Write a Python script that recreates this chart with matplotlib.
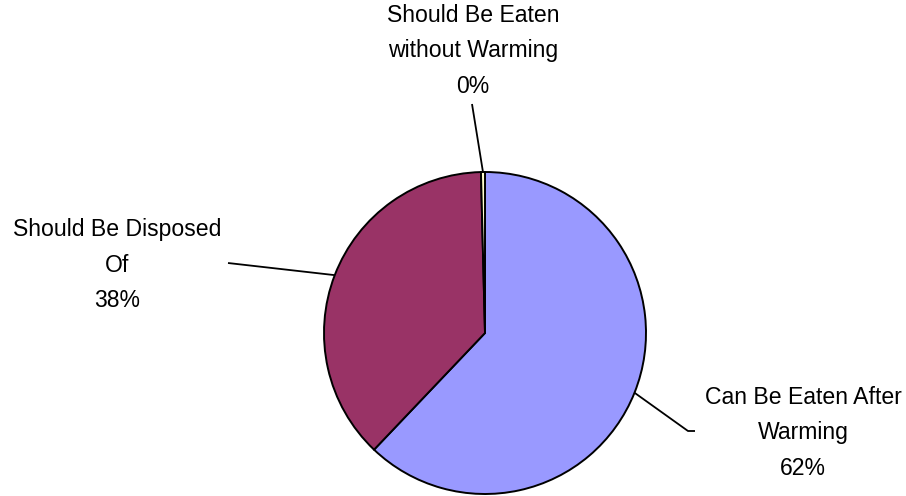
import numpy as np
import matplotlib
matplotlib.use("Agg")
import matplotlib.pyplot as plt

categories = ["Can Be Eaten After\nWarming", "Should Be Disposed\nOf", "Should Be Eaten\nwithout Warming"]
values = [62.1, 37.5, 0.4]
colors = ["#9999FF", "#993366", "#FFFFCC"]

plt.rcParams['font.family'] = ['Liberation Sans', 'DejaVu Sans']

W, H = 906, 496
fig = plt.figure(figsize=(W / 100, H / 100), dpi=100)
ax = fig.add_axes([0, 0, 1, 1])

cx, cy, R = 485, H - 333, 161
wedges, _ = ax.pie(values, colors=colors, startangle=90, counterclock=False,
                   center=(cx, cy), radius=R, frame=True,
                   wedgeprops=dict(edgecolor='black', linewidth=1.4))
ax.set_xlim(0, W)
ax.set_ylim(0, H)
ax.set_aspect('equal')
ax.axis('off')

# label placements (style): text center, leader end points
label_pos = [(803, H - 433), (117, H - 265), (473, H - 51)]
leader_end = [[(688, H - 431), (695, H - 431)], [(228, H - 263)], [(472, H - 104)]]

total = sum(values)
for w, cat, v, tp, le in zip(wedges, categories, values, label_pos, leader_end):
    mid = np.deg2rad((w.theta1 + w.theta2) / 2)
    sx, sy = cx + R * np.cos(mid), cy + R * np.sin(mid)
    xs = [sx] + [p[0] for p in le]
    ys = [sy] + [p[1] for p in le]
    ax.plot(xs, ys, color='black', lw=1.3, solid_capstyle='butt', zorder=5)
    pct = "%.0f%%" % (100 * v / total)
    ax.text(tp[0], tp[1], cat + "\n" + pct, ha='center', va='center',
            fontsize=16.6, linespacing=1.68, color='black')

fig.savefig("out.png", dpi=100)
